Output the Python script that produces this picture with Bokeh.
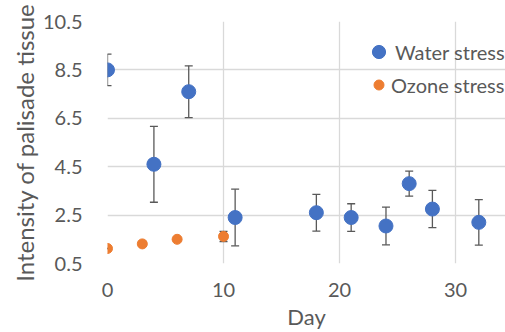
from bokeh.plotting import figure
from bokeh.models import ColumnDataSource, Whisker, FixedTicker, Legend, LegendItem, Range1d
from bokeh.embed import file_html
from bokeh.resources import INLINE

# Data
water_day = [0, 4, 7, 11, 18, 21, 24, 26, 28, 32]
water_val = [8.5, 4.6, 7.6, 2.4, 2.6, 2.4, 2.05, 3.8, 2.75, 2.2]
water_err = [0.65, 1.57, 1.07, 1.17, 0.76, 0.57, 0.78, 0.52, 0.77, 0.94]
ozone_day = [0, 3, 6, 10]
ozone_val = [1.12, 1.31, 1.5, 1.62]
ozone_err = [0.0, 0.0, 0.08, 0.21]
x_ticks = [0, 10, 20, 30]
y_ticks = [0.5, 2.5, 4.5, 6.5, 8.5, 10.5]

BLUE = "#4472C4"
ORANGE = "#ED7D31"
TXT = "#595959"
GRID = "#D9D9D9"
FONT = "Lato"

p = figure(width=505, height=332, output_backend="svg", toolbar_location=None,
           x_range=Range1d(0, 34.3), y_range=Range1d(0.5, 10.5),
           min_border_left=107, min_border_right=0, min_border_top=21, min_border_bottom=68)
p.outline_line_color = None
p.background_fill_color = "white"

ws = ColumnDataSource(dict(x=water_day, y=water_val,
                           lo=[v - e for v, e in zip(water_val, water_err)],
                           hi=[v + e for v, e in zip(water_val, water_err)]))
oz = ColumnDataSource(dict(x=ozone_day, y=ozone_val,
                           lo=[v - e for v, e in zip(ozone_val, ozone_err)],
                           hi=[v + e for v, e in zip(ozone_val, ozone_err)]))

for src in (ws, oz):
    w = Whisker(source=src, base="x", lower="lo", upper="hi", line_color=TXT, line_width=1.3)
    for h in (w.upper_head, w.lower_head):
        h.size = 8
        h.line_color = TXT
        h.line_width = 1.3
    p.add_layout(w)

r1 = p.scatter("x", "y", source=ws, size=14, color=BLUE)
r2 = p.scatter("x", "y", source=oz, size=10, color=ORANGE)

common = dict(border_line_color=None, background_fill_alpha=0, padding=0, margin=0,
              label_text_font=FONT, label_text_font_size="20px", label_text_color=TXT)
leg1 = Legend(items=[LegendItem(label="Water stress", renderers=[r1])],
              location=(255, 195), glyph_width=33, glyph_height=33, label_height=33,
              label_standoff=-4, **common)
leg2 = Legend(items=[LegendItem(label="Ozone stress", renderers=[r2])],
              location=(259, 166), glyph_width=25, glyph_height=25, label_height=25,
              label_standoff=0, **common)
p.add_layout(leg1)
p.add_layout(leg2)

for ax in (p.xaxis[0], p.yaxis[0]):
    ax.axis_line_color = None
    ax.major_tick_line_color = None
    ax.minor_tick_line_color = None
    ax.major_tick_out = 0
    ax.major_tick_in = 0
    ax.major_label_text_font = FONT
    ax.major_label_text_font_size = "20px"
    ax.major_label_text_color = TXT
    ax.axis_label_text_font = FONT
    ax.axis_label_text_font_style = "normal"
    ax.axis_label_text_color = TXT

p.xaxis.ticker = FixedTicker(ticks=x_ticks)
p.yaxis.ticker = FixedTicker(ticks=y_ticks)
p.yaxis.major_label_overrides = {t: f"{t:.1f}" for t in y_ticks}
p.xaxis.axis_label = "Day"
p.yaxis.axis_label = "Intensity of palisade tissue"
p.xaxis.axis_label_text_font_size = "22px"
p.yaxis.axis_label_text_font_size = "24px"
p.xaxis.major_label_standoff = 19
p.xaxis.axis_label_standoff = 3
p.yaxis.major_label_standoff = 25
p.yaxis.axis_label_standoff = 1

p.xgrid.ticker = FixedTicker(ticks=x_ticks)
p.ygrid.ticker = FixedTicker(ticks=y_ticks)
p.grid.grid_line_color = GRID
p.grid.grid_line_width = 1.3

open("out.html", "w").write(file_html(p, INLINE))
